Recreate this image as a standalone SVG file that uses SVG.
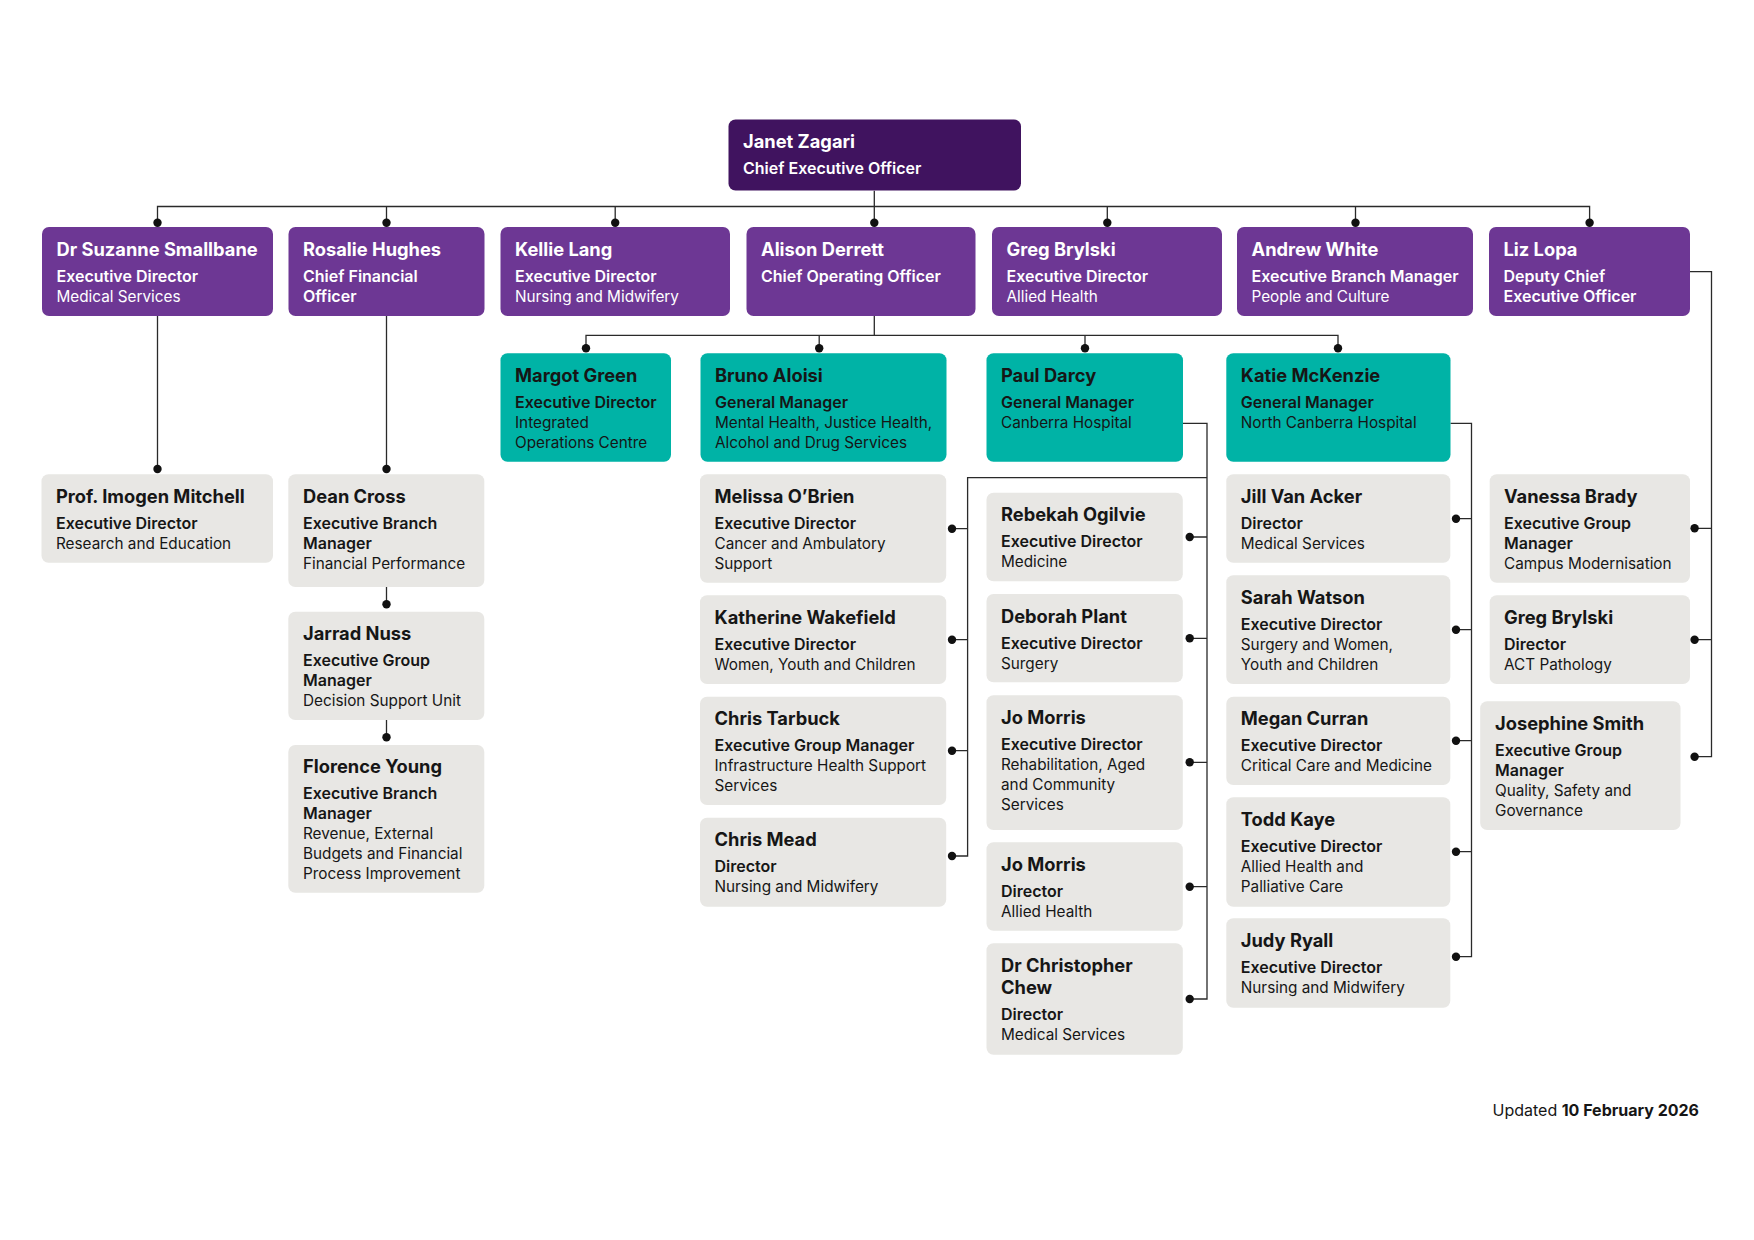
<svg xmlns="http://www.w3.org/2000/svg" width="1754" height="1240" viewBox="0 0 1754 1240">
<style>
text{font-family:Inter,"Liberation Sans",sans-serif}
.n{font-size:18.3px;font-weight:700}
.t{font-size:16px;font-weight:600}
.d{font-size:15.3px;font-weight:400}
.w{fill:#ffffff}
.k{fill:#161616}
.ceo{fill:#40135F}
.pur{fill:#6D3794}
.teal{fill:#00B3A6}
.grey{fill:#E8E7E4}
.ln{fill:none;stroke:#2a2a2a;stroke-width:1.3}
.dot{fill:#111}
</style>
<rect width="1754" height="1240" fill="#fff"/>
<g id="connectors">
<path class="ln" d="M874.3 190.7V222.7M157.5 222.7V206.5H1589.6V222.7M386.5 206.5V222.7M615.2 206.5V222.7M1107.3 206.5V222.7M1355.5 206.5V222.7"/>
<path class="ln" d="M157.5 316V469M386.5 316V469M386.5 587V604.3M386.5 720V737.3"/>
<path class="ln" d="M874.3 316V335.3M586 348.3V335.3H1338V348.3M819.2 335.3V348.3M1085 335.3V348.3"/>
<path class="ln" d="M1183 423.3H1207V999H1189.7M1207 537H1189.7M1207 638.3H1189.7M1207 762.3H1189.7M1207 886.7H1189.7M1207 477.7H967.6V856H952M967.6 528.7H952M967.6 639.7H952M967.6 750.7H952"/>
<path class="ln" d="M1450.5 423.3H1471.5V956.7H1456M1471.5 518.7H1456M1471.5 629.7H1456M1471.5 740.7H1456M1471.5 851.7H1456"/>
<path class="ln" d="M1690 271.7H1711.5V756.7H1694.6M1711.5 528.3H1694.6M1711.5 639.7H1694.6"/>
<g class="dot">
<circle cx="157.5" cy="222.7" r="4.2"/><circle cx="386.5" cy="222.7" r="4.2"/><circle cx="615.2" cy="222.7" r="4.2"/><circle cx="874.3" cy="222.7" r="4.2"/><circle cx="1107.3" cy="222.7" r="4.2"/><circle cx="1355.5" cy="222.7" r="4.2"/><circle cx="1589.6" cy="222.7" r="4.2"/>
<circle cx="586" cy="348.3" r="4.2"/><circle cx="819.2" cy="348.3" r="4.2"/><circle cx="1085" cy="348.3" r="4.2"/><circle cx="1338" cy="348.3" r="4.2"/>
<circle cx="157.5" cy="469" r="4.2"/><circle cx="386.5" cy="469" r="4.2"/><circle cx="386.5" cy="604.3" r="4.2"/><circle cx="386.5" cy="737.3" r="4.2"/>
<circle cx="952" cy="528.7" r="4.2"/><circle cx="952" cy="639.7" r="4.2"/><circle cx="952" cy="750.7" r="4.2"/><circle cx="952" cy="856" r="4.2"/>
<circle cx="1189.7" cy="537" r="4.2"/><circle cx="1189.7" cy="638.3" r="4.2"/><circle cx="1189.7" cy="762.3" r="4.2"/><circle cx="1189.7" cy="886.7" r="4.2"/><circle cx="1189.7" cy="999" r="4.2"/>
<circle cx="1456" cy="518.7" r="4.2"/><circle cx="1456" cy="629.7" r="4.2"/><circle cx="1456" cy="740.7" r="4.2"/><circle cx="1456" cy="851.7" r="4.2"/><circle cx="1456" cy="956.7" r="4.2"/>
<circle cx="1694.6" cy="528.3" r="4.2"/><circle cx="1694.6" cy="639.7" r="4.2"/><circle cx="1694.6" cy="756.7" r="4.2"/>
</g>
</g>

<g id="ceo"><rect class="ceo" x="728.5" y="119.5" width="292.5" height="71" rx="7"/>
<text class="w"><tspan class="n" x="743" y="148">Janet Zagari</tspan><tspan class="t" x="743" y="174">Chief Executive Officer</tspan></text></g>

<g id="suzanne"><rect class="pur" x="42" y="227" width="231" height="89" rx="7"/>
<text class="w"><tspan class="n" x="56.5" y="256">Dr Suzanne Smallbane</tspan><tspan class="t" x="56.5" y="282">Executive Director</tspan><tspan class="d" x="56.5" y="302">Medical Services</tspan></text></g>
<g id="rosalie"><rect class="pur" x="288.5" y="227" width="196" height="89" rx="7"/>
<text class="w"><tspan class="n" x="303" y="256">Rosalie Hughes</tspan><tspan class="t" x="303" y="282">Chief Financial</tspan><tspan class="t" x="303" y="302">Officer</tspan></text></g>
<g id="kellie"><rect class="pur" x="500.5" y="227" width="229.5" height="89" rx="7"/>
<text class="w"><tspan class="n" x="515" y="256">Kellie Lang</tspan><tspan class="t" x="515" y="282">Executive Director</tspan><tspan class="d" x="515" y="302">Nursing and Midwifery</tspan></text></g>
<g id="alison"><rect class="pur" x="746.5" y="227" width="229" height="89" rx="7"/>
<text class="w"><tspan class="n" x="761" y="256">Alison Derrett</tspan><tspan class="t" x="761" y="282">Chief Operating Officer</tspan></text></g>
<g id="greg"><rect class="pur" x="992" y="227" width="230" height="89" rx="7"/>
<text class="w"><tspan class="n" x="1006.5" y="256">Greg Brylski</tspan><tspan class="t" x="1006.5" y="282">Executive Director</tspan><tspan class="d" x="1006.5" y="302">Allied Health</tspan></text></g>
<g id="andrew"><rect class="pur" x="1237" y="227" width="236" height="89" rx="7"/>
<text class="w"><tspan class="n" x="1251.5" y="256">Andrew White</tspan><tspan class="t" x="1251.5" y="282">Executive Branch Manager</tspan><tspan class="d" x="1251.5" y="302">People and Culture</tspan></text></g>
<g id="liz"><rect class="pur" x="1489" y="227" width="201" height="89" rx="7"/>
<text class="w"><tspan class="n" x="1503.5" y="256">Liz Lopa</tspan><tspan class="t" x="1503.5" y="282">Deputy Chief</tspan><tspan class="t" x="1503.5" y="302">Executive Officer</tspan></text></g>

<g id="margot"><rect class="teal" x="500.5" y="353.3" width="170.5" height="108.4" rx="7"/>
<text class="k"><tspan class="n" x="515" y="382">Margot Green</tspan><tspan class="t" x="515" y="407.5">Executive Director</tspan><tspan class="d" x="515" y="427.5">Integrated</tspan><tspan class="d" x="515" y="447.5">Operations Centre</tspan></text></g>
<g id="bruno"><rect class="teal" x="700.5" y="353.3" width="246" height="108.4" rx="7"/>
<text class="k"><tspan class="n" x="715" y="382">Bruno Aloisi</tspan><tspan class="t" x="715" y="407.5">General Manager</tspan><tspan class="d" x="715" y="427.5">Mental Health, Justice Health,</tspan><tspan class="d" x="715" y="447.5">Alcohol and Drug Services</tspan></text></g>
<g id="paul"><rect class="teal" x="986.5" y="353.3" width="196.5" height="108.4" rx="7"/>
<text class="k"><tspan class="n" x="1001" y="382">Paul Darcy</tspan><tspan class="t" x="1001" y="407.5">General Manager</tspan><tspan class="d" x="1001" y="427.5">Canberra Hospital</tspan></text></g>
<g id="katie"><rect class="teal" x="1226.3" y="353.3" width="224.2" height="108.4" rx="7"/>
<text class="k"><tspan class="n" x="1240.8" y="382">Katie McKenzie</tspan><tspan class="t" x="1240.8" y="407.5">General Manager</tspan><tspan class="d" x="1240.8" y="427.5">North Canberra Hospital</tspan></text></g>

<g id="imogen"><rect class="grey" x="41.5" y="474.3" width="231.5" height="88.4" rx="7"/>
<text class="k"><tspan class="n" x="56" y="503">Prof. Imogen Mitchell</tspan><tspan class="t" x="56" y="529">Executive Director</tspan><tspan class="d" x="56" y="549">Research and Education</tspan></text></g>
<g id="dean"><rect class="grey" x="288.3" y="474.3" width="196" height="112.7" rx="7"/>
<text class="k"><tspan class="n" x="303" y="503">Dean Cross</tspan><tspan class="t" x="303" y="529">Executive Branch</tspan><tspan class="t" x="303" y="549">Manager</tspan><tspan class="d" x="303" y="569">Financial Performance</tspan></text></g>
<g id="jarrad"><rect class="grey" x="288.3" y="611.7" width="196" height="108.3" rx="7"/>
<text class="k"><tspan class="n" x="303" y="640">Jarrad Nuss</tspan><tspan class="t" x="303" y="666">Executive Group</tspan><tspan class="t" x="303" y="686">Manager</tspan><tspan class="d" x="303" y="706">Decision Support Unit</tspan></text></g>
<g id="florence"><rect class="grey" x="288.3" y="745" width="196" height="147.7" rx="7"/>
<text class="k"><tspan class="n" x="303" y="773">Florence Young</tspan><tspan class="t" x="303" y="799">Executive Branch</tspan><tspan class="t" x="303" y="819">Manager</tspan><tspan class="d" x="303" y="839">Revenue, External</tspan><tspan class="d" x="303" y="859">Budgets and Financial</tspan><tspan class="d" x="303" y="879">Process Improvement</tspan></text></g>

<g id="melissa"><rect class="grey" x="700" y="474.3" width="246.2" height="108.4" rx="7"/>
<text class="k"><tspan class="n" x="714.5" y="503">Melissa O’Brien</tspan><tspan class="t" x="714.5" y="529">Executive Director</tspan><tspan class="d" x="714.5" y="549">Cancer and Ambulatory</tspan><tspan class="d" x="714.5" y="569">Support</tspan></text></g>
<g id="katherine"><rect class="grey" x="700" y="595.3" width="246.2" height="88.7" rx="7"/>
<text class="k"><tspan class="n" x="714.5" y="624">Katherine Wakefield</tspan><tspan class="t" x="714.5" y="650">Executive Director</tspan><tspan class="d" x="714.5" y="670">Women, Youth and Children</tspan></text></g>
<g id="tarbuck"><rect class="grey" x="700" y="696.7" width="246.2" height="108.3" rx="7"/>
<text class="k"><tspan class="n" x="714.5" y="725">Chris Tarbuck</tspan><tspan class="t" x="714.5" y="751">Executive Group Manager</tspan><tspan class="d" x="714.5" y="771">Infrastructure Health Support</tspan><tspan class="d" x="714.5" y="791">Services</tspan></text></g>
<g id="mead"><rect class="grey" x="700" y="817.7" width="246.2" height="89" rx="7"/>
<text class="k"><tspan class="n" x="714.5" y="846">Chris Mead</tspan><tspan class="t" x="714.5" y="872">Director</tspan><tspan class="d" x="714.5" y="892">Nursing and Midwifery</tspan></text></g>

<g id="rebekah"><rect class="grey" x="986.5" y="492.7" width="196.3" height="88.6" rx="7"/>
<text class="k"><tspan class="n" x="1001" y="521">Rebekah Ogilvie</tspan><tspan class="t" x="1001" y="547">Executive Director</tspan><tspan class="d" x="1001" y="567">Medicine</tspan></text></g>
<g id="deborah"><rect class="grey" x="986.5" y="594" width="196.3" height="88.3" rx="7"/>
<text class="k"><tspan class="n" x="1001" y="622.5">Deborah Plant</tspan><tspan class="t" x="1001" y="648.5">Executive Director</tspan><tspan class="d" x="1001" y="668.5">Surgery</tspan></text></g>
<g id="jomorris1"><rect class="grey" x="986.5" y="695.3" width="196.3" height="134.7" rx="7"/>
<text class="k"><tspan class="n" x="1001" y="724">Jo Morris</tspan><tspan class="t" x="1001" y="750">Executive Director</tspan><tspan class="d" x="1001" y="770">Rehabilitation, Aged</tspan><tspan class="d" x="1001" y="790">and Community</tspan><tspan class="d" x="1001" y="810">Services</tspan></text></g>
<g id="jomorris2"><rect class="grey" x="986.5" y="842.3" width="196.3" height="88.4" rx="7"/>
<text class="k"><tspan class="n" x="1001" y="871">Jo Morris</tspan><tspan class="t" x="1001" y="897">Director</tspan><tspan class="d" x="1001" y="917">Allied Health</tspan></text></g>
<g id="chew"><rect class="grey" x="986.5" y="943.3" width="196.3" height="111.4" rx="7"/>
<text class="k"><tspan class="n" x="1001" y="972">Dr Christopher</tspan><tspan class="n" x="1001" y="993.5">Chew</tspan><tspan class="t" x="1001" y="1020">Director</tspan><tspan class="d" x="1001" y="1040">Medical Services</tspan></text></g>

<g id="jill"><rect class="grey" x="1226.3" y="474.3" width="224" height="88.4" rx="7"/>
<text class="k"><tspan class="n" x="1240.8" y="503">Jill Van Acker</tspan><tspan class="t" x="1240.8" y="529">Director</tspan><tspan class="d" x="1240.8" y="549">Medical Services</tspan></text></g>
<g id="sarah"><rect class="grey" x="1226.3" y="575.3" width="224" height="108.7" rx="7"/>
<text class="k"><tspan class="n" x="1240.8" y="604">Sarah Watson</tspan><tspan class="t" x="1240.8" y="630">Executive Director</tspan><tspan class="d" x="1240.8" y="650">Surgery and Women,</tspan><tspan class="d" x="1240.8" y="670">Youth and Children</tspan></text></g>
<g id="megan"><rect class="grey" x="1226.3" y="696.7" width="224" height="88.3" rx="7"/>
<text class="k"><tspan class="n" x="1240.8" y="725">Megan Curran</tspan><tspan class="t" x="1240.8" y="751">Executive Director</tspan><tspan class="d" x="1240.8" y="771">Critical Care and Medicine</tspan></text></g>
<g id="todd"><rect class="grey" x="1226.3" y="797.3" width="224" height="109.4" rx="7"/>
<text class="k"><tspan class="n" x="1240.8" y="826">Todd Kaye</tspan><tspan class="t" x="1240.8" y="852">Executive Director</tspan><tspan class="d" x="1240.8" y="872">Allied Health and</tspan><tspan class="d" x="1240.8" y="892">Palliative Care</tspan></text></g>
<g id="judy"><rect class="grey" x="1226.3" y="918.3" width="224" height="89.4" rx="7"/>
<text class="k"><tspan class="n" x="1240.8" y="947">Judy Ryall</tspan><tspan class="t" x="1240.8" y="973">Executive Director</tspan><tspan class="d" x="1240.8" y="993">Nursing and Midwifery</tspan></text></g>

<g id="vanessa"><rect class="grey" x="1489.7" y="474.3" width="200.3" height="108.4" rx="7"/>
<text class="k"><tspan class="n" x="1504" y="503">Vanessa Brady</tspan><tspan class="t" x="1504" y="529">Executive Group</tspan><tspan class="t" x="1504" y="549">Manager</tspan><tspan class="d" x="1504" y="569">Campus Modernisation</tspan></text></g>
<g id="greg2"><rect class="grey" x="1489.7" y="595.3" width="200.3" height="88.7" rx="7"/>
<text class="k"><tspan class="n" x="1504" y="624">Greg Brylski</tspan><tspan class="t" x="1504" y="650">Director</tspan><tspan class="d" x="1504" y="670">ACT Pathology</tspan></text></g>
<g id="josephine"><rect class="grey" x="1480.2" y="701.3" width="200.3" height="128.7" rx="7"/>
<text class="k"><tspan class="n" x="1495" y="729.5">Josephine Smith</tspan><tspan class="t" x="1495" y="756">Executive Group</tspan><tspan class="t" x="1495" y="776">Manager</tspan><tspan class="d" x="1495" y="796">Quality, Safety and</tspan><tspan class="d" x="1495" y="816">Governance</tspan></text></g>

<text x="1699" y="1115.7" text-anchor="end" class="k" style="font-size:16px"><tspan font-weight="400">Updated </tspan><tspan font-weight="700">10 February 2026</tspan></text>
</svg>
